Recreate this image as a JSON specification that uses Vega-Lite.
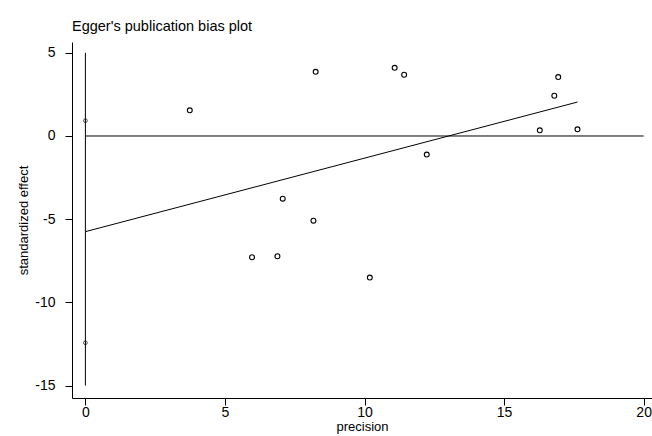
{
  "$schema": "https://vega.github.io/schema/vega-lite/v6.json",
  "width": 580,
  "height": 356,
  "autosize": {"type": "none"},
  "padding": {"left": 72, "top": 42, "right": 0, "bottom": 38},
  "background": "white",
  "title": {
    "text": "Egger's publication bias plot",
    "anchor": "start",
    "frame": "group",
    "font": "Liberation Sans",
    "fontSize": 14.5,
    "fontWeight": "normal",
    "color": "black",
    "offset": 8
  },
  "config": {
    "view": {"stroke": null},
    "axis": {
      "grid": false,
      "domainColor": "black",
      "tickColor": "black",
      "labelColor": "black",
      "titleColor": "black",
      "labelFont": "Liberation Sans",
      "titleFont": "Liberation Sans",
      "labelFontSize": 14,
      "titleFontSize": 13,
      "titleFontWeight": "normal",
      "tickSize": 7,
      "domainWidth": 1,
      "tickWidth": 1,
      "labelExpr": "'' + datum.value"
    }
  },
  "datasets": {
    "studies": [
      {"precision": 3.74, "effect": 1.54},
      {"precision": 8.25, "effect": 3.86},
      {"precision": 7.07, "effect": -3.77},
      {"precision": 8.17, "effect": -5.09},
      {"precision": 11.08, "effect": 4.1},
      {"precision": 11.42, "effect": 3.68},
      {"precision": 16.94, "effect": 3.54},
      {"precision": 16.8, "effect": 2.42},
      {"precision": 16.28, "effect": 0.34},
      {"precision": 17.63, "effect": 0.4},
      {"precision": 12.23, "effect": -1.12},
      {"precision": 5.97, "effect": -7.29},
      {"precision": 6.88, "effect": -7.23},
      {"precision": 10.19, "effect": -8.51}
    ],
    "fit": [
      {"precision": 0, "effect": -5.75},
      {"precision": 17.63, "effect": 2.04}
    ],
    "intercept_ci": [
      {"precision": 0, "effect": 0.92},
      {"precision": 0, "effect": -12.43}
    ],
    "zero_line": [
      {"x0": 0, "x1": 20, "y": 0}
    ],
    "vertical": [
      {"x": 0, "y0": -15, "y1": 5}
    ]
  },
  "layer": [
    {
      "data": {"name": "vertical"},
      "mark": {"type": "rule", "color": "black", "strokeWidth": 1},
      "encoding": {
        "x": {
          "field": "x", "type": "quantitative",
          "scale": {"domain": [-0.48, 20.3], "nice": false, "zero": false},
          "axis": {"values": [0, 5, 10, 15, 20], "title": "precision", "labelPadding": 0, "titlePadding": 1}
        },
        "y": {
          "field": "y0", "type": "quantitative",
          "scale": {"domain": [-15.75, 5.65], "nice": false, "zero": false},
          "axis": {"values": [-15, -10, -5, 0, 5], "title": "standardized effect", "labelPadding": 10, "titlePadding": 4}
        },
        "y2": {"field": "y1"}
      }
    },
    {
      "data": {"name": "zero_line"},
      "mark": {"type": "rule", "color": "black", "strokeWidth": 1},
      "encoding": {
        "x": {"field": "x0", "type": "quantitative"},
        "x2": {"field": "x1"},
        "y": {"field": "y", "type": "quantitative"}
      }
    },
    {
      "data": {"name": "fit"},
      "mark": {"type": "line", "color": "black", "strokeWidth": 1},
      "encoding": {
        "x": {"field": "precision", "type": "quantitative"},
        "y": {"field": "effect", "type": "quantitative"}
      }
    },
    {
      "data": {"name": "intercept_ci"},
      "mark": {"type": "point", "shape": "circle", "filled": false, "color": "black", "size": 14, "strokeWidth": 1},
      "encoding": {
        "x": {"field": "precision", "type": "quantitative"},
        "y": {"field": "effect", "type": "quantitative"}
      }
    },
    {
      "data": {"name": "studies"},
      "mark": {"type": "point", "shape": "circle", "filled": false, "color": "black", "size": 24, "strokeWidth": 1.1, "opacity": 1},
      "encoding": {
        "x": {"field": "precision", "type": "quantitative"},
        "y": {"field": "effect", "type": "quantitative"}
      }
    }
  ]
}
